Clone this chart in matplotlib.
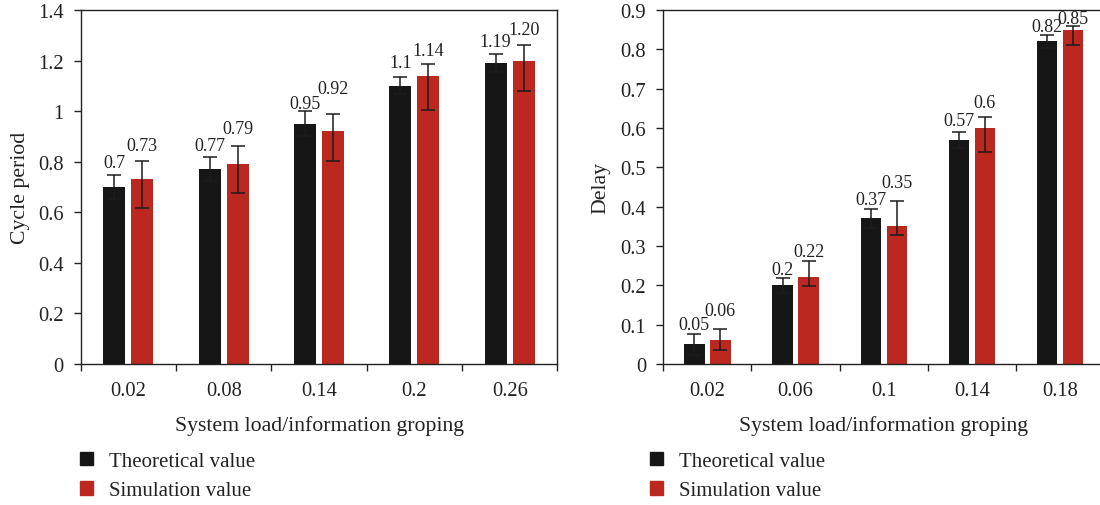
import matplotlib
matplotlib.use("Agg")
import matplotlib.pyplot as plt
from matplotlib.patches import Patch
from matplotlib.ticker import FixedLocator
import numpy as np

plt.rcParams["font.family"] = ["Liberation Serif", "DejaVu Serif"]

BLACK = "#161616"
RED = "#BA2820"
ERR = "#1c1c1c"

# cycle period panel
cycle_loads = ["0.02", "0.08", "0.14", "0.2", "0.26"]
cycle_theory = [0.70, 0.77, 0.95, 1.10, 1.19]
cycle_sim = [0.73, 0.79, 0.92, 1.14, 1.20]
cycle_theory_err = [0.046, 0.047, 0.049, 0.033, 0.036]
cycle_sim_err_low = [0.113, 0.114, 0.116, 0.135, 0.122]
cycle_sim_err_high = [0.071, 0.071, 0.067, 0.047, 0.061]
cycle_theory_text = ["0.7", "0.77", "0.95", "1.1", "1.19"]
cycle_sim_text = ["0.73", "0.79", "0.92", "1.14", "1.20"]

# delay panel
delay_loads = ["0.02", "0.06", "0.1", "0.14", "0.18"]
delay_theory = [0.05, 0.20, 0.37, 0.57, 0.82]
delay_sim = [0.06, 0.22, 0.35, 0.60, 0.85]
delay_theory_err = [0.026, 0.019, 0.024, 0.020, 0.017]
delay_sim_err_low = [0.025, 0.021, 0.023, 0.061, 0.039]
delay_sim_err_high = [0.030, 0.043, 0.065, 0.028, 0.010]
delay_theory_text = ["0.05", "0.2", "0.37", "0.57", "0.82"]
delay_sim_text = ["0.06", "0.22", "0.35", "0.6", "0.85"]

# gap (px) between error cap and value label, as placed in the original
cycle_theory_pad = [8.7, 7.4, 3, 10.3, 8.3]
cycle_sim_pad = [11.7, 13, 21, 9, 10.7]
delay_theory_pad = [4.7, 4, 5.3, 7.3, 3.3]
delay_sim_pad = [14, 5, 13.7, 10, 2.7]

WIDTH = 0.23
OFFSET = 0.147
TXT = "#222222"


def draw_panel(ax, loads, theory, sim, t_err, s_lo, s_hi, t_txt, s_txt,
               t_pad, s_pad, ymax, ystep, ylabel, ylabel_x):
    x = np.arange(len(loads))
    xt = x - OFFSET
    xs = x + OFFSET
    ax.bar(xt, theory, WIDTH, color=BLACK, zorder=2)
    ax.bar(xs, sim, WIDTH, color=RED, zorder=2)
    ekw = dict(fmt="none", ecolor=ERR, elinewidth=1.1, capsize=5, capthick=1.1, zorder=3)
    ax.errorbar(xt, theory, yerr=[t_err, t_err], **ekw)
    ax.errorbar(xs, sim, yerr=[s_lo, s_hi], **ekw)

    for xi, v, e, txt, pad in zip(xt, theory, t_err, t_txt, t_pad):
        ax.annotate(txt, (xi, v + e), xytext=(0, pad * 0.72), textcoords="offset points",
                    ha="center", va="baseline", fontsize=13, color=TXT)
    for xi, v, e, txt, pad in zip(xs, sim, s_hi, s_txt, s_pad):
        ax.annotate(txt, (xi, v + e), xytext=(0, pad * 0.72), textcoords="offset points",
                    ha="center", va="baseline", fontsize=13, color=TXT)

    ax.set_xlim(-0.5, len(loads) - 0.5)
    ax.set_ylim(0, ymax)
    ticks = np.arange(0, ymax + ystep / 2, ystep)
    ax.set_yticks(ticks)
    ax.set_yticklabels([f"{v:g}" for v in ticks])

    ax.xaxis.set_major_locator(FixedLocator(np.arange(-0.5, len(loads), 1.0)))
    ax.xaxis.set_minor_locator(FixedLocator(x))
    ax.set_xticklabels([], minor=False)
    ax.set_xticklabels(loads, minor=True)
    ax.tick_params(axis="x", which="major", direction="out", length=5.3, width=1, color=TXT)
    ax.tick_params(axis="x", which="minor", length=0, pad=12.5, labelsize=14.8, labelcolor=TXT)
    ax.tick_params(axis="y", direction="out", length=5.3, width=1, pad=7,
                   labelsize=14.8, labelcolor=TXT, color=TXT)

    for sp in ax.spines.values():
        sp.set_linewidth(1.0)
        sp.set_color(TXT)

    ax.set_xlabel("System load/information groping", fontsize=15.7, color=TXT)
    ax.xaxis.set_label_coords(0.5, -0.172)
    ax.xaxis.label.set_va("center")
    ax.set_ylabel(ylabel, fontsize=15.7, color=TXT)
    ax.yaxis.set_label_coords(ylabel_x, 0.5)
    ax.yaxis.label.set_va("center")


fig = plt.figure(figsize=(11, 5.06), dpi=100)
ax1 = fig.add_axes([0.0734, 0.2787, 0.4333, 0.6996])
ax2 = fig.add_axes([0.6030, 0.2787, 0.4009, 0.6996])

draw_panel(ax1, cycle_loads, cycle_theory, cycle_sim, cycle_theory_err,
           cycle_sim_err_low, cycle_sim_err_high, cycle_theory_text, cycle_sim_text,
           cycle_theory_pad, cycle_sim_pad, 1.4, 0.2, "Cycle period", -0.127)
draw_panel(ax2, delay_loads, delay_theory, delay_sim, delay_theory_err,
           delay_sim_err_low, delay_sim_err_high, delay_theory_text, delay_sim_text,
           delay_theory_pad, delay_sim_pad, 0.9, 0.1, "Delay", -0.142)

handles = [Patch(color=BLACK), Patch(color=RED)]
labels = ["Theoretical value", "Simulation value"]
for x0 in (80 / 1100, 650 / 1100):
    fig.legend(handles, labels, loc="upper left", bbox_to_anchor=(x0, 1 - 453 / 506),
               frameon=False, fontsize=15, handlelength=0.6, handleheight=0.6,
               handletextpad=0.8, labelspacing=0.5, borderpad=0, borderaxespad=0,
               labelcolor=TXT)

fig.savefig("out.png", dpi=100)
